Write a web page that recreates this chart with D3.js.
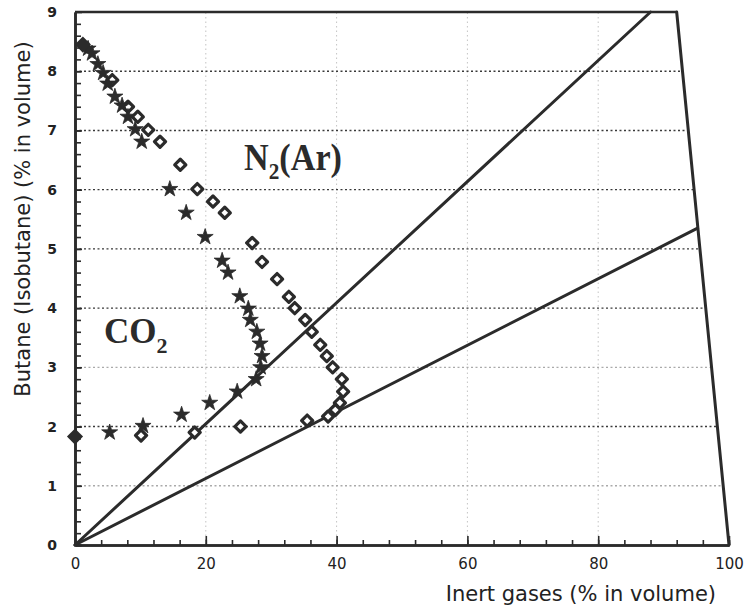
<!DOCTYPE html>
<html>
<head>
<meta charset="utf-8">
<script src="https://cdn.jsdelivr.net/npm/d3@7"></script>
<style>
  body { margin: 0; background: #fff; }
  svg { display: block; }
</style>
</head>
<body>
<div id="chart"></div>
<script>
// ========================
// Data
// ========================
// CO2 series (filled stars): [inert %, butane %]
const co2X = [2.0, 2.6, 3.5, 4.3, 5.0, 6.1, 7.2, 8.1, 9.2, 10.2, 14.5, 17.0, 19.9, 22.5, 23.4, 25.2, 26.5, 26.8, 27.8, 28.3, 28.6, 28.4, 27.7, 24.8, 20.6, 16.3, 10.4, 5.3];
const co2Y = [8.38, 8.3, 8.12, 7.97, 7.79, 7.57, 7.42, 7.23, 7.02, 6.81, 6.01, 5.61, 5.2, 4.8, 4.6, 4.2, 3.99, 3.8, 3.6, 3.4, 3.19, 3.0, 2.8, 2.59, 2.4, 2.2, 2.01, 1.9];

// N2(Ar) series (open diamonds)
const n2X = [5.7, 8.1, 9.6, 11.2, 13.0, 16.1, 18.7, 21.1, 22.9, 27.1, 28.6, 30.9, 32.7, 33.6, 35.2, 36.2, 37.5, 38.5, 39.4, 40.8, 41.0, 40.5, 39.8, 38.7, 35.5, 25.3, 18.3, 10.1];
const n2Y = [7.85, 7.4, 7.23, 7.01, 6.81, 6.42, 6.01, 5.8, 5.61, 5.1, 4.78, 4.49, 4.19, 4.0, 3.8, 3.6, 3.38, 3.19, 3.0, 2.8, 2.59, 2.4, 2.28, 2.17, 2.1, 2.0, 1.9, 1.85];

// points where both series coincide (big filled marks)
const sharedX = [1.2, 0];
const sharedY = [8.45, 1.83];

// straight limit lines: [x0, y0, x1, y1]
const limitLines = [
    [0, 0, 88, 9],     // N2(Ar) limit
    [0, 0, 95.2, 5.35], // CO2 limit
    [92, 9, 100, 0]    // right-hand boundary
];

const xTicks = [0, 20, 40, 60, 80, 100];
const yTicks = [0, 1, 2, 3, 4, 5, 6, 7, 8, 9];
const gridStrong = [2, 4, 5, 6, 7, 8];
const gridFaint = [1, 3];
const xGrid = [20, 40, 60, 80];

// ========================
// Setup
// ========================
const width = 746;
const height = 612;
const ink = "#2b2b2b";

const x = d3.scaleLinear().domain([0, 100]).range([75, 729]);
const y = d3.scaleLinear().domain([0, 9]).range([545, 12]);

// x position of the slanted right boundary at a given y
const rightEdge = v => 100 - 8 * v / 9;

const svg = d3.select("#chart").append("svg")
    .attr("width", width)
    .attr("height", height);

// ========================
// Grid
// ========================
svg.append("g").selectAll("line")
    .data(xGrid)
    .join("line")
    .attr("x1", d => x(d)).attr("x2", d => x(d))
    .attr("y1", y(0)).attr("y2", y(9))
    .attr("stroke", "#c4c4c4")
    .attr("stroke-width", 1)
    .attr("stroke-dasharray", "1.5,3");

svg.append("g").selectAll("line")
    .data(gridStrong.concat(gridFaint))
    .join("line")
    .attr("x1", x(0))
    .attr("x2", d => x(rightEdge(d)))
    .attr("y1", d => y(d)).attr("y2", d => y(d))
    .attr("stroke", d => gridFaint.includes(d) ? "#aaa" : "#3a3a3a")
    .attr("stroke-width", 1.4)
    .attr("stroke-dasharray", "2,2.5");

// ========================
// Axes
// ========================
const xMinor = svg.append("g")
    .attr("transform", `translate(0,${y(0)})`)
    .call(d3.axisBottom(x).tickValues(d3.range(0, 101, 4)).tickSizeInner(-5).tickSizeOuter(0).tickFormat(""));

const xAxis = svg.append("g")
    .attr("transform", `translate(0,${y(0)})`)
    .call(d3.axisBottom(x).tickValues(xTicks).tickSizeInner(-9).tickSizeOuter(0).tickPadding(13));

const yMinor = svg.append("g")
    .attr("transform", `translate(${x(0)},0)`)
    .call(d3.axisLeft(y).tickValues(d3.range(0, 45).map(d => d * 0.2)).tickSizeInner(-6).tickSizeOuter(0).tickFormat(""));

const yAxis = svg.append("g")
    .attr("transform", `translate(${x(0)},0)`)
    .call(d3.axisLeft(y).tickValues(yTicks).tickSizeInner(-7).tickSizeOuter(0).tickPadding(18));

[xMinor, xAxis, yMinor, yAxis].forEach(g => {
    g.select(".domain").attr("stroke", ink).attr("stroke-width", 2.6);
    g.selectAll(".tick line").attr("stroke", ink).attr("stroke-width", 1.6);
});

xAxis.selectAll(".tick text")
    .style("font-family", "'DejaVu Sans', sans-serif")
    .style("font-size", "15px")
    .attr("fill", "#222");

yAxis.selectAll(".tick text")
    .style("font-family", "'DejaVu Sans', sans-serif")
    .style("font-size", "14px")
    .style("font-weight", "bold")
    .attr("fill", "#222");

// top frame
svg.append("line")
    .attr("x1", x(0)).attr("x2", x(92))
    .attr("y1", y(9)).attr("y2", y(9))
    .attr("stroke", ink)
    .attr("stroke-width", 2.6);

// ========================
// Limit lines
// ========================
svg.append("g").selectAll("line")
    .data(limitLines)
    .join("line")
    .attr("x1", d => x(d[0])).attr("y1", d => y(d[1]))
    .attr("x2", d => x(d[2])).attr("y2", d => y(d[3]))
    .attr("stroke", ink)
    .attr("stroke-width", 3)
    .attr("stroke-linecap", "round");

// ========================
// Markers
// ========================
const n2Data = n2X.map((v, i) => [v, n2Y[i]]);
const co2Data = co2X.map((v, i) => [v, co2Y[i]]);
const sharedData = sharedX.map((v, i) => [v, sharedY[i]]);

svg.append("g").selectAll("path")
    .data(n2Data)
    .join("path")
    .attr("d", d3.symbol(d3.symbolSquare, 62))
    .attr("transform", d => `translate(${x(d[0])},${y(d[1])}) rotate(45)`)
    .attr("fill", "#fff")
    .attr("stroke", ink)
    .attr("stroke-width", 3.2)
    .attr("stroke-linejoin", "round");

svg.append("g").selectAll("path")
    .data(co2Data)
    .join("path")
    .attr("d", d3.symbol(d3.symbolStar, 80))
    .attr("transform", d => `translate(${x(d[0])},${y(d[1])})`)
    .attr("fill", ink)
    .attr("stroke", ink)
    .attr("stroke-width", 0.8)
    .attr("stroke-linejoin", "round");

svg.append("g").selectAll("path")
    .data(sharedData)
    .join("path")
    .attr("d", d3.symbol(d3.symbolSquare, 130))
    .attr("transform", d => `translate(${x(d[0])},${y(d[1])}) rotate(45)`)
    .attr("fill", ink);

// ========================
// Labels
// ========================
const n2Label = svg.append("text")
    .attr("x", 244)
    .attr("y", 170)
    .style("font-family", "'Liberation Serif', 'Times New Roman', serif")
    .style("font-weight", "bold")
    .style("font-size", "37px")
    .attr("fill", ink)
    .attr("textLength", 98)
    .attr("lengthAdjust", "spacingAndGlyphs");
n2Label.append("tspan").text("N");
n2Label.append("tspan").attr("dy", 9).style("font-size", "23px").text("2");
n2Label.append("tspan").attr("dy", -9).text("(Ar)");

const co2Label = svg.append("text")
    .attr("x", 104)
    .attr("y", 343)
    .style("font-family", "'Liberation Serif', 'Times New Roman', serif")
    .style("font-weight", "bold")
    .style("font-size", "35px")
    .attr("fill", ink);
co2Label.append("tspan").text("CO");
co2Label.append("tspan").attr("dy", 10).style("font-size", "22px").text("2");

svg.append("text")
    .attr("x", 716)
    .attr("y", 601)
    .attr("text-anchor", "end")
    .style("font-family", "'DejaVu Sans', sans-serif")
    .style("font-size", "21px")
    .attr("fill", "#222")
    .text("Inert gases (% in volume)");

svg.append("text")
    .attr("transform", "translate(30,219) rotate(-90)")
    .attr("text-anchor", "middle")
    .style("font-family", "'DejaVu Sans', sans-serif")
    .style("font-size", "21px")
    .attr("fill", "#222")
    .text("Butane (Isobutane) (% in volume)");
</script>
</body>
</html>
